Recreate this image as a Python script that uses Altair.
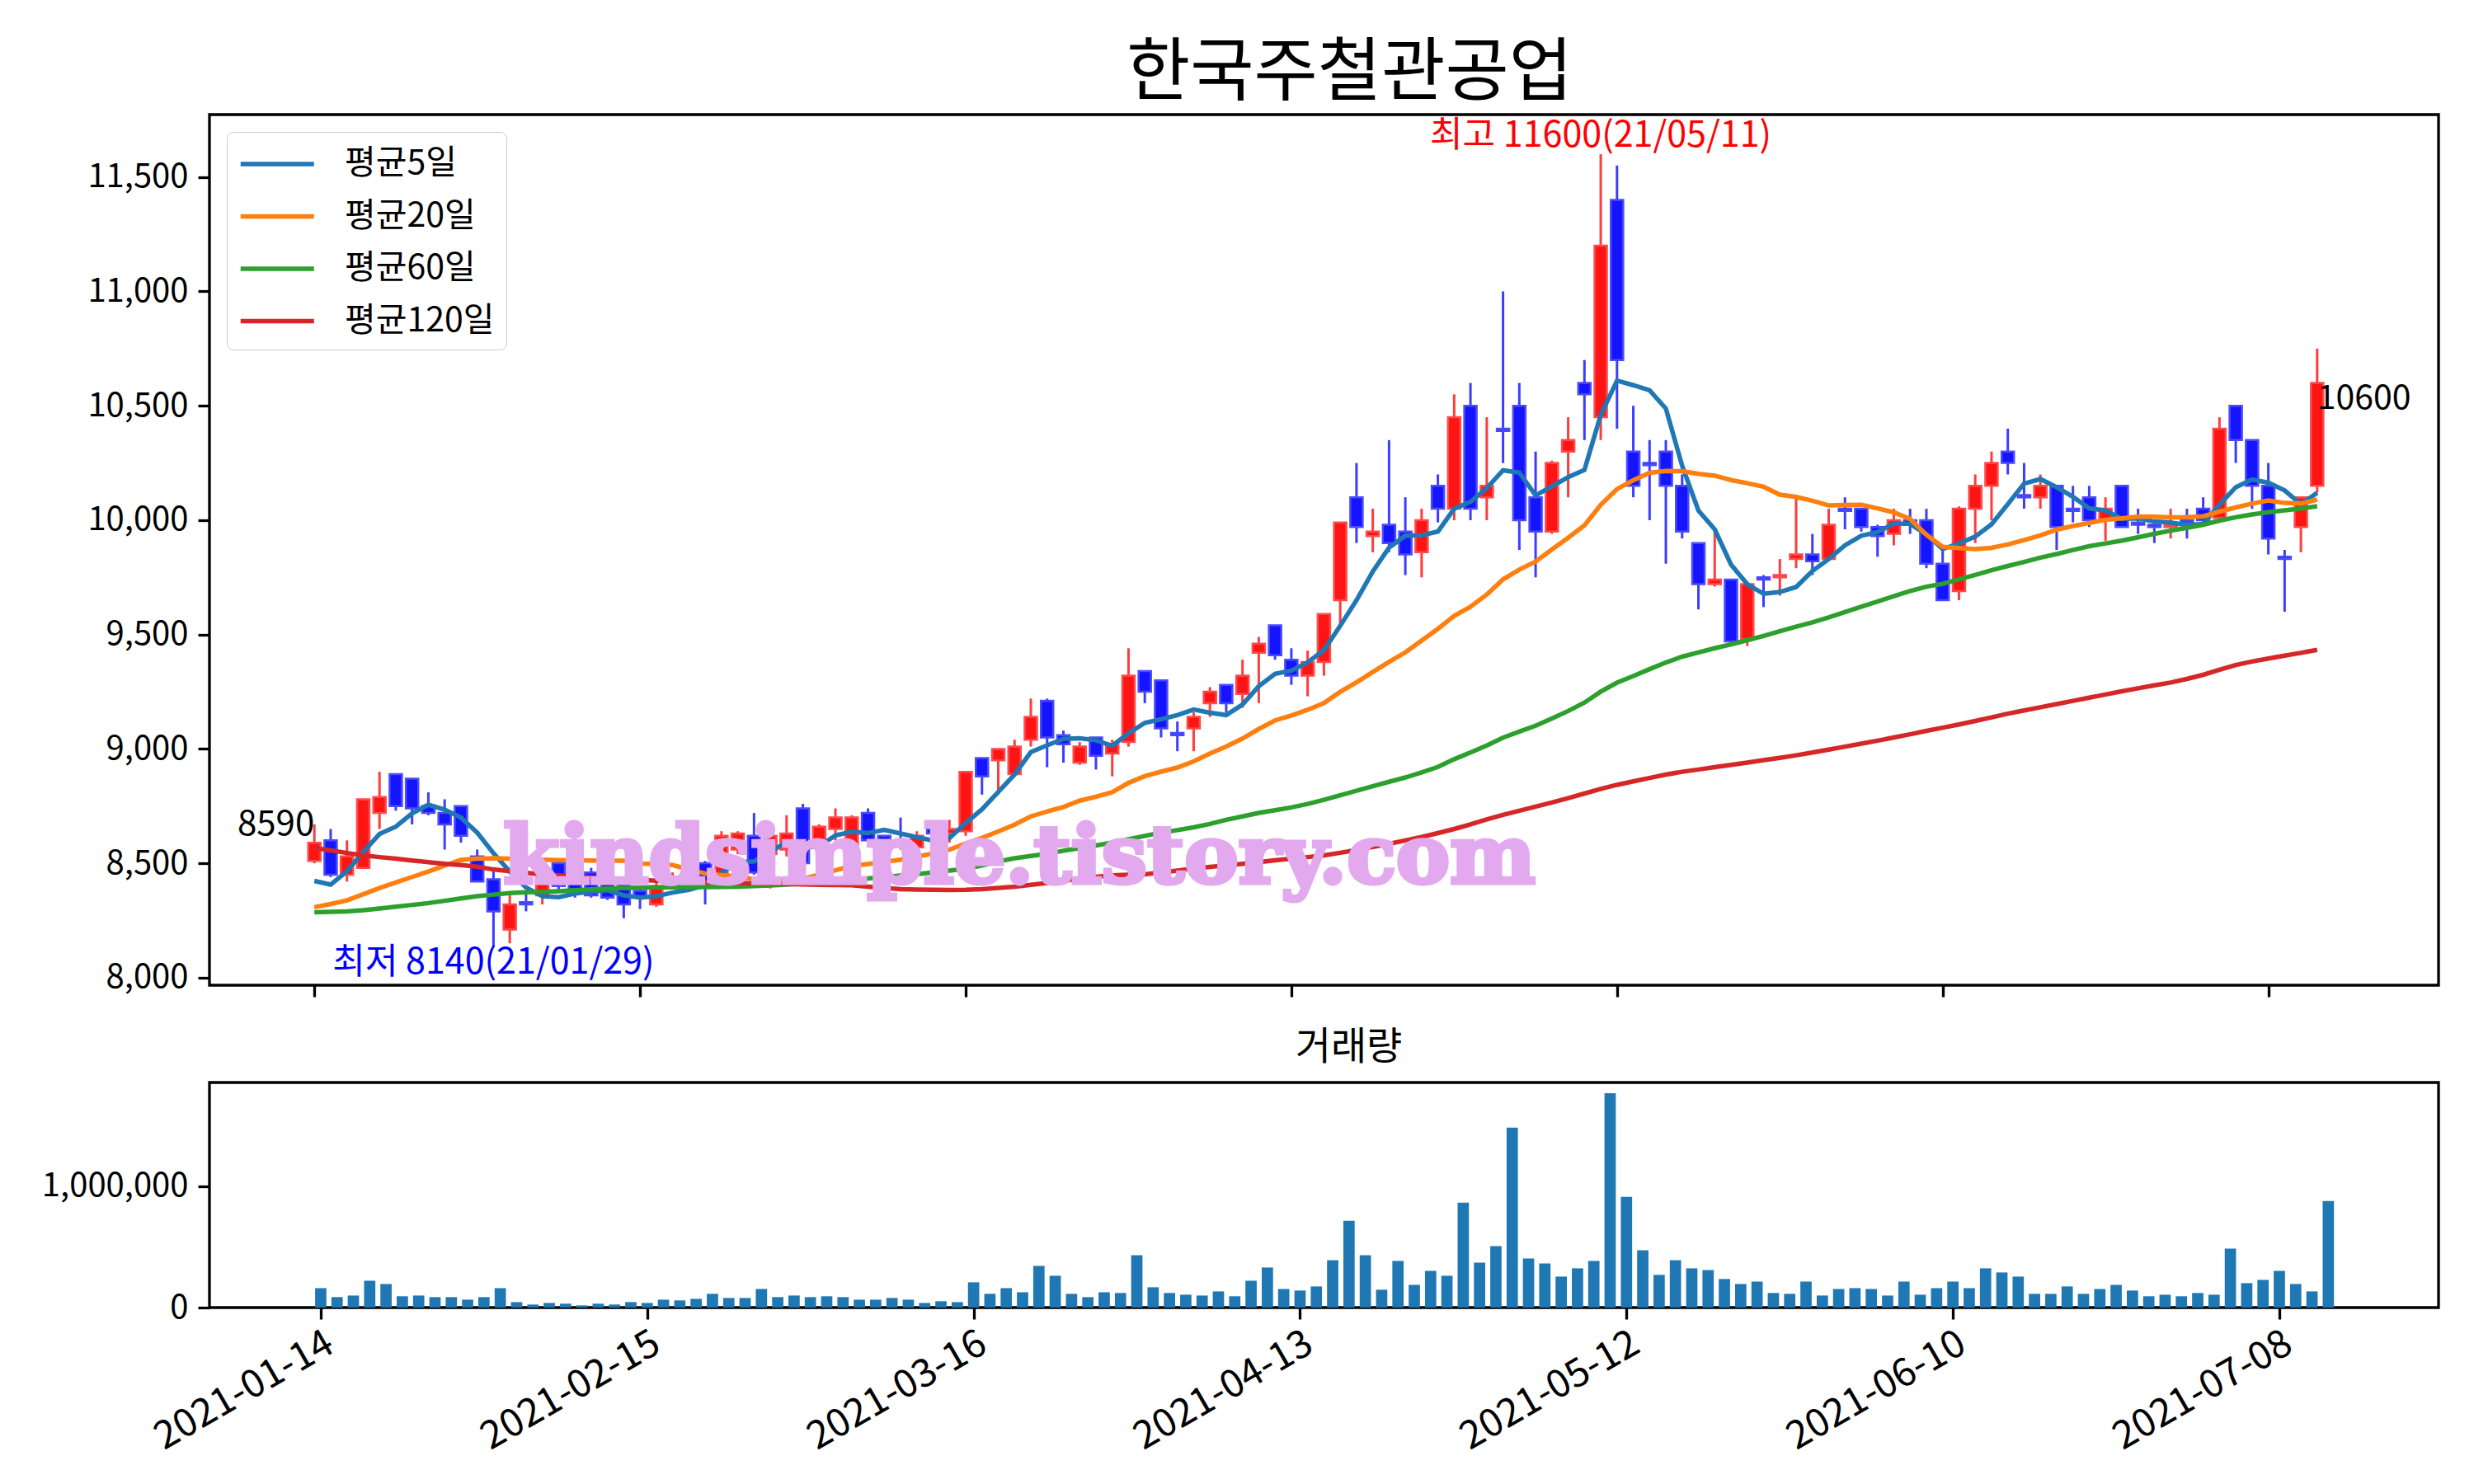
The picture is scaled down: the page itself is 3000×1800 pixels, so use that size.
import altair as alt
import pandas as pd
import numpy as np

# ---------------- data ----------------
title_text = "한국주철관공업"
vol_title = "거래량"
ma_names = ["평균5일", "평균20일", "평균60일", "평균120일"]
ma_colors = ["#1f77b4", "#ff7f0e", "#2ca02c", "#d62728"]
watermark = "kindsimple.tistory.com"
holidays = ["2021-02-11", "2021-02-12", "2021-03-01", "2021-05-05", "2021-05-19"]
start_date = "2021-01-14"
tick_idx = [0, 20, 40, 60, 80, 100, 120]
price_ticks = [8000, 8500, 9000, 9500, 10000, 10500, 11000, 11500]
volume_ticks = [0, 1000000]

opens = [8510, 8600, 8450, 8480, 8720, 8890, 8870, 8750, 8720, 8750,
         8530, 8430, 8210, 8330, 8360, 8500, 8420, 8460, 8420, 8410,
         8380, 8320, 8400, 8450, 8500, 8420, 8560, 8620, 8540, 8560,
         8740, 8580, 8650, 8560, 8720, 8620, 8600, 8570, 8650, 8630,
         8640, 8960, 8950, 8890, 9040, 9210, 9060, 8940, 9050, 8980,
         9030, 9340, 9300, 9070, 9090, 9200, 9280, 9240, 9420, 9540,
         9390, 9320, 9380, 9650, 10100, 9930, 9980, 9950, 9860, 10150,
         10050, 10500, 10100, 10400, 10500, 10100, 9950, 10300, 10600, 10450,
         11400, 10300, 10250, 10300, 10150, 9900, 9720, 9740, 9480, 9750,
         9750, 9830, 9850, 9830, 10050, 10050, 9970, 9940, 10000, 10000,
         9810, 9690, 10050, 10150, 10300, 10110, 10100, 10150, 10050, 10100,
         10000, 10150, 9990, 9980, 9970, 10000, 10050, 10010, 10500, 10350,
         10150, 9840, 9970, 10150]

highs = [8670, 8650, 8600, 8780, 8900, 8890, 8870, 8810, 8780, 8750,
         8560, 8470, 8360, 8370, 8460, 8510, 8440, 8480, 8440, 8440,
         8400, 8440, 8460, 8470, 8510, 8640, 8640, 8720, 8660, 8710,
         8760, 8670, 8740, 8710, 8740, 8620, 8700, 8640, 8680, 8690,
         8900, 8960, 9000, 9040, 9220, 9220, 9080, 9030, 9050, 9040,
         9440, 9340, 9300, 9120, 9160, 9270, 9280, 9390, 9490, 9540,
         9440, 9430, 9590, 9990, 10250, 10050, 10350, 10100, 10050, 10200,
         10550, 10600, 10450, 11000, 10600, 10300, 10260, 10450, 10700, 11600,
         11550, 10500, 10350, 10350, 10200, 9900, 9950, 9740, 9730, 9760,
         9830, 10100, 9940, 10050, 10100, 10050, 9980, 10050, 10050, 10050,
         9890, 10060, 10200, 10300, 10400, 10250, 10200, 10150, 10150, 10150,
         10100, 10150, 10050, 10000, 10050, 10050, 10100, 10450, 10500, 10350,
         10250, 9870, 10100, 10750]

lows = [8500, 8440, 8420, 8480, 8650, 8730, 8670, 8710, 8560, 8590,
        8420, 8140, 8150, 8290, 8320, 8380, 8350, 8350, 8340, 8260,
        8300, 8310, 8390, 8400, 8320, 8400, 8540, 8450, 8390, 8530,
        8480, 8560, 8600, 8540, 8590, 8560, 8560, 8540, 8600, 8590,
        8620, 8800, 8800, 8880, 9010, 8920, 8940, 8930, 8910, 8880,
        9010, 9200, 9050, 8990, 8990, 9140, 9160, 9180, 9200, 9390,
        9280, 9230, 9320, 9540, 9900, 9860, 9860, 9760, 9750, 9990,
        10000, 10000, 10000, 10250, 9870, 9750, 9940, 10100, 10350, 10350,
        10400, 10100, 10000, 9810, 9920, 9610, 9710, 9460, 9450, 9620,
        9670, 9790, 9760, 9830, 9960, 9950, 9840, 9890, 9940, 9790,
        9650, 9650, 9900, 10000, 10200, 10050, 10050, 9870, 9990, 9970,
        9910, 9970, 9940, 9900, 9920, 9920, 9990, 10000, 10250, 10050,
        9850, 9600, 9860, 10120]

closes = [8590, 8450, 8530, 8780, 8790, 8750, 8740, 8720, 8670, 8620,
          8420, 8290, 8320, 8320, 8430, 8400, 8370, 8360, 8350, 8320,
          8350, 8400, 8440, 8410, 8420, 8620, 8630, 8460, 8620, 8630,
          8500, 8660, 8700, 8700, 8600, 8570, 8580, 8620, 8630, 8650,
          8900, 8880, 9000, 9010, 9140, 9050, 9020, 9010, 8970, 9020,
          9320, 9250, 9090, 9060, 9140, 9250, 9200, 9320, 9460, 9410,
          9320, 9380, 9590, 9990, 9970, 9950, 9900, 9850, 10000, 10050,
          10450, 10050, 10150, 10390, 10000, 9950, 10250, 10350, 10550, 11200,
          10700, 10150, 10240, 10150, 9950, 9720, 9740, 9470, 9720, 9740,
          9760, 9850, 9820, 9980, 10040, 9970, 9930, 10000, 9980, 9810,
          9650, 10050, 10150, 10250, 10250, 10100, 10150, 9970, 10040, 10000,
          10050, 9970, 9980, 9970, 9980, 9990, 10000, 10400, 10350, 10150,
          9920, 9830, 10100, 10600]

volumes = [160000, 86000, 99000, 221000, 194000, 93000, 99000, 86000, 86000, 65000,
           86000, 160000, 45000, 25000, 38000, 32000, 18000, 32000, 25000, 45000,
           38000, 65000, 59000, 72000, 113000, 79000, 79000, 153000, 86000, 99000,
           86000, 93000, 86000, 65000, 65000, 79000, 65000, 38000, 52000, 45000,
           208000, 113000, 160000, 126000, 343000, 262000, 113000, 86000, 126000, 120000,
           431000, 167000, 120000, 106000, 99000, 133000, 93000, 221000, 330000, 153000,
           140000, 174000, 390000, 715000, 431000, 147000, 384000, 187000, 302000, 262000,
           864000, 370000, 506000, 1481000, 404000, 363000, 255000, 323000, 384000, 1765000,
           912000, 472000, 269000, 390000, 323000, 309000, 235000, 194000, 214000, 120000,
           113000, 214000, 99000, 153000, 160000, 153000, 99000, 214000, 106000, 160000,
           214000, 160000, 323000, 289000, 255000, 113000, 113000, 174000, 113000, 153000,
           187000, 140000, 93000, 106000, 93000, 120000, 106000, 485000, 201000, 228000,
           302000, 194000, 133000, 878000]

# moving-average values before enough in-window history exists
ma5_head = [8423, 8407, 8465, 8549]
ma20_head = [8308, 8322, 8338, 8365, 8392, 8416, 8440, 8464, 8490, 8515,
             8520, 8522, 8520, 8518, 8516, 8514, 8513, 8512, 8511]
ma60_head = [8286, 8288, 8290, 8295, 8302, 8310, 8318, 8326, 8336, 8346,
             8356, 8363, 8370, 8373, 8375, 8378, 8382, 8386, 8390, 8392,
             8393, 8395, 8395, 8396, 8396, 8397, 8398, 8400, 8403, 8407,
             8412, 8418, 8424, 8429, 8434, 8440, 8446, 8453, 8460, 8468,
             8476, 8490, 8508, 8522, 8532, 8542, 8555, 8566, 8578, 8591,
             8605, 8620, 8634, 8645, 8657, 8672, 8690, 8705, 8720]
ma120 = [8567, 8556, 8545, 8535, 8527, 8520, 8512, 8505, 8498, 8492,
         8485, 8473, 8465, 8458, 8452, 8447, 8442, 8438, 8435, 8431,
         8427, 8424, 8422, 8420, 8418, 8416, 8414, 8412, 8410, 8409,
         8408, 8406, 8405, 8404, 8398, 8392, 8387, 8385, 8384, 8383,
         8384, 8387, 8392, 8398, 8406, 8414, 8423, 8433, 8441, 8447,
         8450, 8452, 8460, 8468, 8477, 8484, 8491, 8498, 8505, 8513,
         8520, 8527, 8535, 8546, 8558, 8571, 8585, 8600, 8615, 8632,
         8650, 8670, 8692, 8712, 8730, 8748, 8766, 8785, 8805, 8825,
         8843, 8858, 8873, 8888, 8900, 8910, 8920, 8930, 8940, 8951,
         8961, 8972, 8984, 8997, 9010, 9023, 9036, 9050, 9064, 9079,
         9093, 9107, 9122, 9138, 9154, 9168, 9182, 9196, 9210, 9224,
         9238, 9252, 9265, 9278, 9290, 9306, 9324, 9346, 9367, 9382,
         9395, 9408, 9420, 9433]

# ---------------- tables ----------------
KFONT = "Noto Sans CJK KR"
n = len(closes)
dates = pd.bdate_range(start_date, periods=n, freq="C", holidays=holidays)
df = pd.DataFrame({
    "idx": list(range(n)), "open": opens, "high": highs, "low": lows,
    "close": closes, "volume": volumes, "date": dates.strftime("%Y-%m-%d"),
})

c = pd.Series(closes, dtype=float)
ma5 = c.rolling(5).mean().values
ma5[:4] = ma5_head
ma20 = c.rolling(20).mean().values
ma20[:19] = ma20_head
ma60 = c.rolling(60).mean().values
ma60[:59] = ma60_head
ma_df = pd.concat([
    pd.DataFrame({"idx": list(range(n)), "value": vals, "series": name})
    for name, vals in zip(ma_names, [ma5, ma20, ma60, ma120])
])

imax = int(np.argmax(highs))
imin = int(np.argmin(lows))
max_df = pd.DataFrame({"idx": [imax], "value": [highs[imax]],
                       "text": [f"최고 {highs[imax]}({dates[imax]:%y/%m/%d})"]})
min_df = pd.DataFrame({"idx": [imin], "value": [lows[imin]],
                       "text": [f"최저 {lows[imin]}({dates[imin]:%y/%m/%d})"]})
first_df = pd.DataFrame({"idx": [0], "value": [closes[0]], "text": [str(closes[0])]})
last_df = pd.DataFrame({"idx": [n - 1], "value": [closes[-1]], "text": [str(closes[-1])]})
wm_df = pd.DataFrame({"text": [watermark]})

# ---------------- scales / axes ----------------
W = 2703
H_MAIN = 1056
H_VOL = 273
EXT = 239

x_main = alt.Scale(domain=[-6.19, 130.2], nice=False, zero=False)
y_main = alt.Scale(domain=[7967, 11773], nice=False, zero=False)
x_vol = alt.Scale(domain=[-6.565, 129.5], nice=False, zero=False)
y_vol = alt.Scale(domain=[0, 1853000], nice=False, zero=False)

x_axis_main = alt.Axis(values=tick_idx, labels=False, tickSize=14, tickWidth=3.3,
                       tickColor="black", domain=False, grid=False, title=None)
y_axis_main = alt.Axis(values=price_ticks, format=",.0f", tickSize=14, tickWidth=3.3,
                       tickColor="black", labelFontSize=40, labelPadding=12,
                       labelColor="black", labelFont=KFONT, labelLimit=400,
                       minExtent=EXT, maxExtent=EXT, domain=False, grid=False, title=None)

label_expr = " : ".join(f"datum.value == {i} ? '{df['date'][i]}'" for i in tick_idx) + " : ''"
x_axis_vol = alt.Axis(values=tick_idx, labelExpr=label_expr, labelAngle=-30,
                      labelAlign="right", labelBaseline="top", labelFontSize=47,
                      labelColor="black", labelFont=KFONT, labelPadding=6,
                      labelLimit=600, labelOverlap=False, labelFlush=False,
                      tickSize=14, tickWidth=3.3, tickColor="black",
                      domain=False, grid=False, title=None)
y_axis_vol = alt.Axis(values=volume_ticks, format=",.0f", tickSize=14, tickWidth=3.3,
                      tickColor="black", labelFontSize=40, labelPadding=12,
                      labelColor="black", labelFont=KFONT, labelLimit=400,
                      minExtent=EXT, maxExtent=EXT, domain=False, grid=False, title=None)

up = "datum.close >= datum.open"
X = alt.X("idx:Q", scale=x_main, axis=x_axis_main)

wicks = alt.Chart(df).mark_rule(strokeWidth=3).encode(
    x=X,
    y=alt.Y("low:Q", scale=y_main, axis=y_axis_main),
    y2="high:Q",
    color=alt.condition(up, alt.value("#ff3c3c"), alt.value("#3c3cff")),
)
bodies = alt.Chart(df).mark_bar(width=15, strokeWidth=2.5).encode(
    x=X,
    y=alt.Y("open:Q", scale=y_main),
    y2="close:Q",
    fill=alt.condition(up, alt.value("#ff1414"), alt.value("#1414ff")),
    stroke=alt.condition(up, alt.value("#ff4a4a"), alt.value("#4a4aff")),
)
lines = alt.Chart(ma_df).mark_line(strokeWidth=5.5).encode(
    x=X,
    y=alt.Y("value:Q", scale=y_main),
    color=alt.Color("series:N", sort=ma_names,
                    scale=alt.Scale(domain=ma_names, range=ma_colors),
                    legend=alt.Legend(title=None, orient="none", legendX=21, legendY=21,
                                      fillColor="white", strokeColor="#cccccc",
                                      cornerRadius=8, padding=14,
                                      symbolType="M-1,0L3,0", symbolSize=1980,
                                      symbolStrokeWidth=5.5, labelFontSize=41,
                                      labelFont=KFONT, labelColor="black",
                                      labelLimit=500, labelOffset=79, rowPadding=18.5)),
)

t_max = alt.Chart(max_df).mark_text(font=KFONT, fontSize=43, color="#ff0000",
                                    align="center", baseline="bottom").encode(
    x=X, y=alt.Y("value:Q", scale=y_main), text="text:N")
t_min = alt.Chart(min_df).mark_text(font=KFONT, fontSize=43, color="#0000ff",
                                    align="center", baseline="top").encode(
    x=X, y=alt.Y("value:Q", scale=y_main), text="text:N")
t_first = alt.Chart(first_df).mark_text(font=KFONT, fontSize=42, color="black",
                                        align="right", baseline="bottom").encode(
    x=X, y=alt.Y("value:Q", scale=y_main), text="text:N")
t_last = alt.Chart(last_df).mark_text(font=KFONT, fontSize=41, color="black",
                                      align="left", baseline="top").encode(
    x=X, y=alt.Y("value:Q", scale=y_main), text="text:N")
wm = alt.Chart(wm_df).mark_text(font="DejaVu Serif", fontWeight="bold", fontSize=98,
                                color="#e3a9ee", stroke="#e3a9ee", strokeWidth=5,
                                align="center", baseline="alphabetic").encode(
    x=alt.value(982), y=alt.value(932), text="text:N")

main = alt.layer(wicks, bodies, lines, t_max, t_min, t_first, t_last, wm).properties(
    width=W, height=H_MAIN,
    title=alt.TitleParams(text=title_text, fontSize=84, font=KFONT, fontWeight="normal",
                          color="black", anchor="middle", dx=31, offset=6),
)

vol = alt.Chart(df).mark_bar(width=13.7, color="#1f77b4").encode(
    x=alt.X("idx:Q", scale=x_vol, axis=x_axis_vol),
    y=alt.Y("volume:Q", scale=y_vol, axis=y_axis_vol),
).properties(
    width=W, height=H_VOL,
    title=alt.TitleParams(text=vol_title, fontSize=47, font=KFONT, fontWeight="normal",
                          color="black", anchor="middle", dx=30, offset=18),
)

chart = alt.vconcat(main, vol, spacing=32).resolve_scale(
    x="independent", y="independent"
).properties(
    padding={"left": 5, "top": 38, "right": 5, "bottom": 5},
    background="white",
).configure_view(stroke="black", strokeWidth=3.3)

chart.save("out.html", embed_options={"renderer": "svg", "actions": False})
